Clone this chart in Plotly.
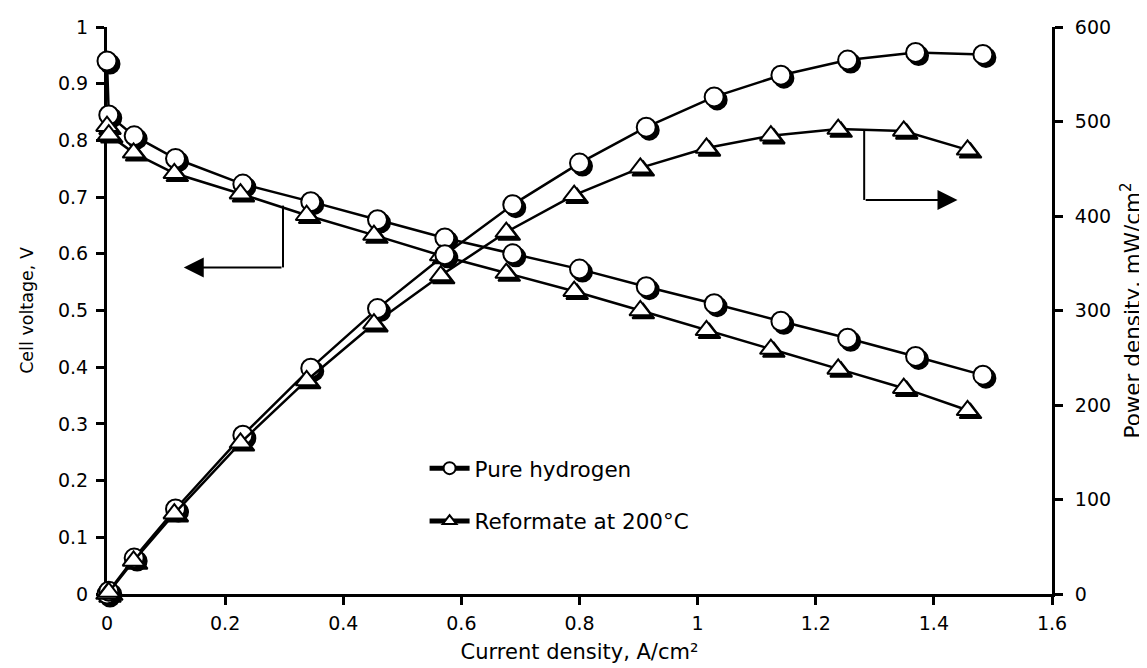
import plotly.graph_objects as go

# ---- data ----
h2_j = [0, 0.003, 0.046, 0.116, 0.230, 0.345, 0.458, 0.572, 0.687, 0.800, 0.913, 1.028, 1.141, 1.254, 1.369, 1.483]
h2_v = [0.940, 0.845, 0.808, 0.768, 0.723, 0.692, 0.660, 0.628, 0.600, 0.573, 0.542, 0.512, 0.481, 0.451, 0.419, 0.386]
h2_p = [0, 3, 38, 90, 168, 239, 302, 359, 412, 456, 494, 526, 549, 565, 573, 571]

ref_j = [0, 0.003, 0.045, 0.114, 0.226, 0.338, 0.452, 0.565, 0.676, 0.791, 0.903, 1.015, 1.124, 1.238, 1.349, 1.457]
ref_v = [0.825, 0.810, 0.778, 0.742, 0.706, 0.668, 0.633, 0.597, 0.566, 0.534, 0.500, 0.465, 0.432, 0.397, 0.363, 0.324]
ref_p = [0, 2, 35, 85, 160, 226, 286, 337, 383, 422, 451, 472, 485, 492, 490, 470]

series_names = ["Pure hydrogen", "Reformate at 200°C"]

x_ticks = [0, 0.2, 0.4, 0.6, 0.8, 1, 1.2, 1.4, 1.6]
x_labels = ["0", "0.2", "0.4", "0.6", "0.8", "1", "1.2", "1.4", "1.6"]
v_ticks = [0, 0.1, 0.2, 0.3, 0.4, 0.5, 0.6, 0.7, 0.8, 0.9, 1]
v_labels = ["0", "0.1", "0.2", "0.3", "0.4", "0.5", "0.6", "0.7", "0.8", "0.9", "1"]
p_ticks = [0, 100, 200, 300, 400, 500, 600]
p_labels = ["0", "100", "200", "300", "400", "500", "600"]

# arrow guides (data coordinates)
left_arrow = dict(x_stem=0.298, y_top=0.685, y_bot=0.576, x_tip=0.130)
right_arrow = dict(x_stem=1.282, p_top=492, p_bot=417, x_tip=1.440)

# ---- layout geometry ----
W, H = 1147, 668
ML, MT = 99, 19
PW, PH = 945, 567
SH = 3  # shadow offset px
MR = W - ML - PW - SH
MB = H - MT - PH - SH
dx = SH / (PW + SH)
dy = SH / (PH + SH)

FONT = "DejaVu Sans"
msize = 19
lw = 2.5

fig = go.Figure()

# shadow traces (black offset markers)
for j, v, p, sym in [(h2_j, h2_v, h2_p, "circle"), (ref_j, ref_v, ref_p, "triangle-up")]:
    fig.add_trace(go.Scatter(x=j, y=v, mode="markers", xaxis="x", yaxis="y",
                             marker=dict(symbol=sym, size=msize, color="black",
                                         line=dict(color="black", width=2)),
                             showlegend=False, hoverinfo="skip", cliponaxis=False))
    fig.add_trace(go.Scatter(x=j, y=p, mode="markers", xaxis="x", yaxis="y2",
                             marker=dict(symbol=sym, size=msize, color="black",
                                         line=dict(color="black", width=2)),
                             showlegend=False, hoverinfo="skip", cliponaxis=False))

# main traces
for name, j, v, p, sym in [(series_names[0], h2_j, h2_v, h2_p, "circle"),
                           (series_names[1], ref_j, ref_v, ref_p, "triangle-up")]:
    mk = dict(symbol=sym, size=msize, color="white", line=dict(color="black", width=2))
    fig.add_trace(go.Scatter(x=j, y=v, mode="lines+markers", xaxis="x2", yaxis="y3",
                             name=name, legendgroup=name,
                             line=dict(color="black", width=lw), marker=mk, cliponaxis=False))
    fig.add_trace(go.Scatter(x=j, y=p, mode="lines+markers", xaxis="x2", yaxis="y4",
                             name=name, legendgroup=name, showlegend=False,
                             line=dict(color="black", width=lw), marker=mk, cliponaxis=False))

tickfont = dict(family=FONT, size=19, color="black")
hidden = dict(visible=False, showgrid=False, zeroline=False, automargin=False)
axstyle = dict(showline=True, linecolor="black", linewidth=3,
               ticks="outside", ticklen=8, tickwidth=3, tickcolor="black",
               tickfont=tickfont, showgrid=False, zeroline=False,
               layer="below traces", automargin=False)

fig.update_layout(
    width=W, height=H,
    margin=dict(l=ML, r=MR, t=MT, b=MB, autoexpand=False),
    paper_bgcolor="white", plot_bgcolor="rgba(0,0,0,0)",
    font=dict(family=FONT, color="black"),
    showlegend=True,
    legend=dict(x=0.335, y=0.262, xanchor="left", yanchor="top",
                font=dict(family=FONT, size=21.5, color="black"),
                bgcolor="rgba(0,0,0,0)", tracegroupgap=22, itemsizing="constant",
                itemwidth=40, traceorder="grouped"),
    xaxis=dict(domain=[dx, 1], range=[0, 1.6], anchor="y", **hidden),
    yaxis=dict(domain=[0, 1 - dy], range=[0, 1], anchor="x", **hidden),
    yaxis2=dict(range=[0, 600], overlaying="y", anchor="x", **hidden),
    xaxis2=dict(domain=[0, 1 - dx], range=[0, 1.6], anchor="y3",
                tickvals=x_ticks, ticktext=x_labels, ticklabelstandoff=2,
                title=dict(text="Current density, A/cm²", font=dict(family=FONT, size=21), standoff=12),
                **axstyle),
    yaxis3=dict(domain=[dy, 1], range=[0, 1], anchor="x2",
                tickvals=v_ticks, ticktext=v_labels, ticklabelstandoff=4,
                title=dict(text="Cell voltage, V", font=dict(family=FONT, size=17.5), standoff=20),
                **axstyle),
    yaxis4=dict(range=[0, 600], overlaying="y3", side="right", anchor="x2",
                tickvals=p_ticks, ticktext=p_labels, ticklabelstandoff=8,
                title=dict(text="Power density, mW/cm<sup>2</sup>", font=dict(family=FONT, size=21.5), standoff=15),
                **axstyle),
)

# arrow guides
fig.add_shape(type="line", xref="x2", yref="y3",
              x0=left_arrow["x_stem"], x1=left_arrow["x_stem"],
              y0=left_arrow["y_top"], y1=left_arrow["y_bot"],
              line=dict(color="black", width=2))
fig.add_annotation(xref="x2", yref="y3", axref="x2", ayref="y3",
                   x=left_arrow["x_tip"], y=left_arrow["y_bot"],
                   ax=left_arrow["x_stem"], ay=left_arrow["y_bot"],
                   text="", showarrow=True, arrowhead=2, arrowsize=2.0, arrowwidth=2,
                   arrowcolor="black")
fig.add_shape(type="line", xref="x2", yref="y4",
              x0=right_arrow["x_stem"], x1=right_arrow["x_stem"],
              y0=right_arrow["p_top"], y1=right_arrow["p_bot"],
              line=dict(color="black", width=2))
fig.add_annotation(xref="x2", yref="y4", axref="x2", ayref="y4",
                   x=right_arrow["x_tip"], y=right_arrow["p_bot"],
                   ax=right_arrow["x_stem"], ay=right_arrow["p_bot"],
                   text="", showarrow=True, arrowhead=2, arrowsize=2.0, arrowwidth=2,
                   arrowcolor="black")

fig.write_html("out.html")
